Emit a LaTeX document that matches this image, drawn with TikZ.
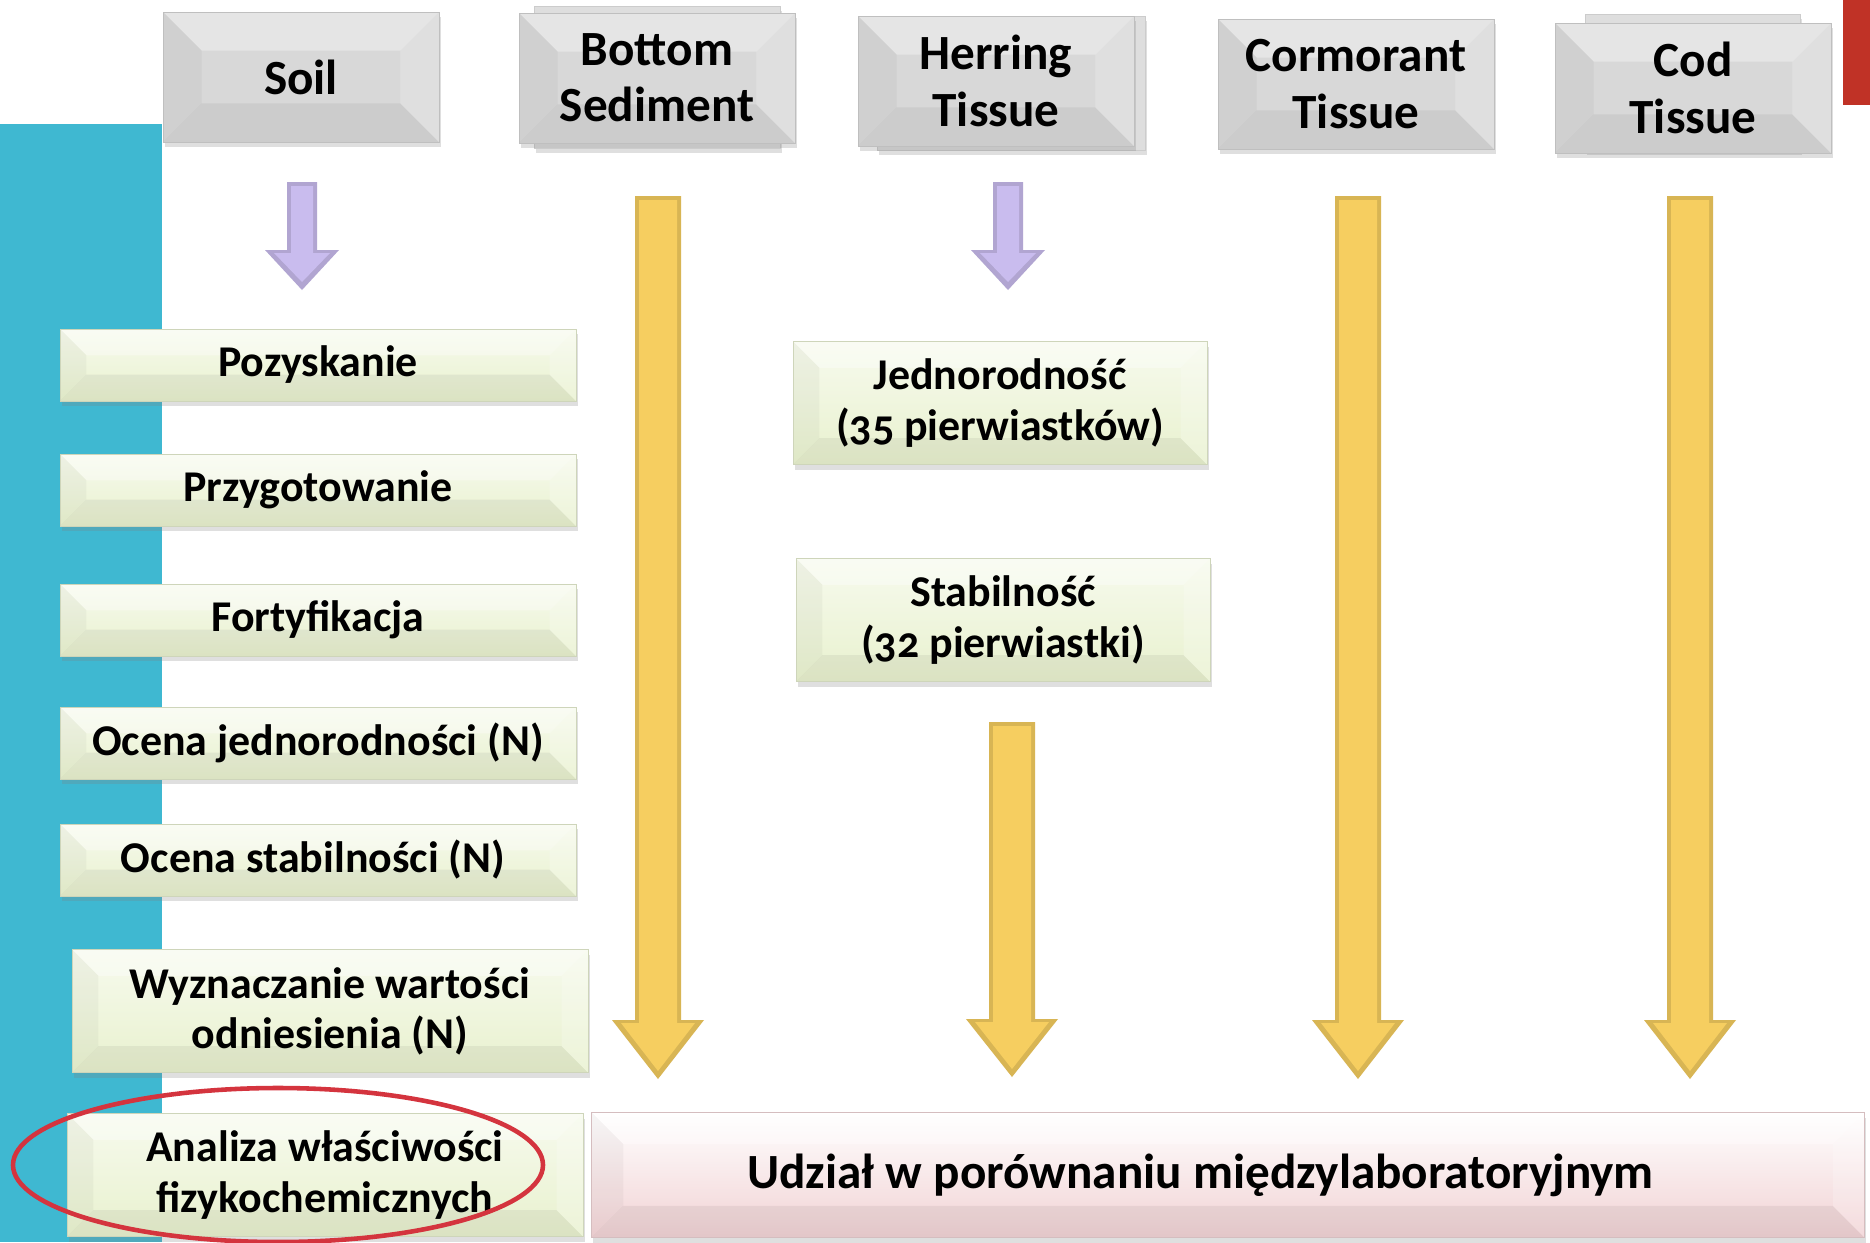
\documentclass[tikz,border=0pt]{standalone}
\usepackage{fontspec}
\setmainfont{Carlito}[Numbers=OldStyle]
\usetikzlibrary{calc,shadows}

\definecolor{bandcyan}{RGB}{63,184,209}
\definecolor{headgray}{RGB}{216,216,216}
\definecolor{stepgreen}{RGB}{232,241,206}
\definecolor{ilcpink}{RGB}{241,210,212}
\definecolor{arrowyellow}{RGB}{246,206,96}
\definecolor{arrowpurple}{RGB}{201,188,238}
\definecolor{ringred}{RGB}{212,52,62}
\definecolor{cornerred}{RGB}{192,50,38}

% bevel drawn inside a node (depth in pt)
\newcommand{\bevelpic}[1]{%
  \fill[white, opacity=.35] (path picture bounding box.north west) -- (path picture bounding box.north east)
    -- ([shift={(-#1pt,-#1pt)}]path picture bounding box.north east) -- ([shift={(#1pt,-#1pt)}]path picture bounding box.north west) -- cycle;
  \fill[black, opacity=.035] (path picture bounding box.north west) -- ([shift={(#1pt,-#1pt)}]path picture bounding box.north west)
    -- ([shift={(#1pt,#1pt)}]path picture bounding box.south west) -- (path picture bounding box.south west) -- cycle;
  \fill[black, opacity=.055] (path picture bounding box.south west) -- ([shift={(#1pt,#1pt)}]path picture bounding box.south west)
    -- ([shift={(-#1pt,#1pt)}]path picture bounding box.south east) -- (path picture bounding box.south east) -- cycle;
  \fill[white, opacity=.2] (path picture bounding box.north east) -- (path picture bounding box.south east)
    -- ([shift={(-#1pt,#1pt)}]path picture bounding box.south east) -- ([shift={(-#1pt,-#1pt)}]path picture bounding box.north east) -- cycle;
}

% block arrow: #1 top, #2 tip, #3 head length, #4 shaft half width, #5 head half width, #6 colour
\newcommand{\blockarrow}[6]{%
  \path[draw=white, fill=white, line width=6pt, line join=round,
        drop shadow={opacity=.2, shadow xshift=1pt, shadow yshift=-2pt}]
    ($(#1)+(-#4,0)$) -- ($(#1)+(#4,0)$) -- ($(#2)+(#4,-#3)$) -- ($(#2)+(#5,-#3)$) -- (#2)
    -- ($(#2)+(-#5,-#3)$) -- ($(#2)+(-#4,-#3)$) -- cycle;
  \fill[#6!88!black]
    ($(#1)+(-#4,0)$) -- ($(#1)+(#4,0)$) -- ($(#2)+(#4,-#3)$) -- ($(#2)+(#5,-#3)$) -- (#2)
    -- ($(#2)+(-#5,-#3)$) -- ($(#2)+(-#4,-#3)$) -- cycle;
  \fill[#6]
    ($(#1)+(-#4+4,4)$) -- ($(#1)+(#4-4,4)$) -- ($(#2)+(#4-4,-#3+3)$) -- ($(#2)+(#5-9,-#3+3)$) -- ($(#2)+(0,-8)$)
    -- ($(#2)+(-#5+9,-#3+3)$) -- ($(#2)+(-#4+4,-#3+3)$) -- cycle;
}

\tikzset{
  bevelled/.style={path picture={\bevelpic{#1}}},
  boxshadow/.style={drop shadow={opacity=.25, shadow xshift=1pt, shadow yshift=-3pt}},
  headbox/.style={rectangle, fill=headgray, draw=gray!50, inner sep=0pt, outer sep=0pt,
    minimum width=5.52cm, minimum height=2.6cm, align=center, boxshadow, bevelled=22,
    font=\bfseries\fontsize{28}{32}\selectfont},
  stepbox/.style={rectangle, top color=stepgreen!35!white, middle color=stepgreen, bottom color=stepgreen,
    draw=stepgreen!75!gray, inner sep=0pt, outer sep=0pt, minimum width=10.32cm, minimum height=1.44cm,
    align=center, boxshadow, bevelled=15, font=\bfseries\fontsize{25}{28.5}\selectfont},
  tallbox/.style={stepbox, minimum height=2.46cm},
  ilcbox/.style={rectangle, top color=white, middle color=ilcpink, bottom color=ilcpink,
    draw=ilcpink!75!gray, inner sep=0pt, outer sep=0pt, minimum width=25.46cm, minimum height=2.5cm,
    align=center, boxshadow, bevelled=18, font=\bfseries\fontsize{28}{32}\selectfont},
}

\begin{document}
\begin{tikzpicture}[x=0.02cm, y=-0.02cm]

  \useasboundingbox (0,0) rectangle (1870,1242);
  \clip (0,0) rectangle (1870,1242);

  % background band and corner
  \fill[bandcyan] (0,124) rectangle (162,1242);
  \fill[cornerred] (1843,0) rectangle (1870,105);

  % back plates of the headers
  \fill[headgray!85!white, draw=gray!40, boxshadow] (534,6) rectangle (780,148);
  \fill[headgray!85!white, draw=gray!40, boxshadow] (877,16) rectangle (1145,150);
  \fill[headgray!85!white, draw=gray!40, boxshadow] (1585,14) rectangle (1800,150);

  % headers
  \node[headbox] (soil)      at (301,77)  {Soil};
  \node[headbox] (sediment)  at (657,78)  {Bottom\\Sediment};
  \node[headbox] (herring)   at (996,81)  {Herring\\Tissue};
  \node[headbox] (cormorant) at (1356,84) {Cormorant\\Tissue};
  \node[headbox] (cod)       at (1693,88) {Cod\\Tissue};

  % ---- arrows ----
  \coordinate (soilA) at (302,182);
  \coordinate (soilB) at (302,290);
  \coordinate (herringA) at (1008,182);
  \coordinate (herringB) at (1008,290);
  \blockarrow{soilA}{soilB}{40}{15}{37}{arrowpurple}
  \blockarrow{herringA}{herringB}{40}{15}{37}{arrowpurple}

  \coordinate (herringC) at (1012,722);
  \coordinate (herringD) at (1012,1077);
  \blockarrow{herringC}{herringD}{58}{23}{46}{arrowyellow}

  \foreach \nm/\xx in {sediment/658, cormorant/1358, cod/1690}{
    \coordinate (\nm A) at (\xx,196);
    \coordinate (\nm B) at (\xx,1079);
    \blockarrow{\nm A}{\nm B}{59}{23}{46}{arrowyellow}
  }

  % ---- steps for soil ----
  \foreach \nm/\yy/\txt in {
      pozysk/365/{Pozyskanie},
      przyg/490/{Przygotowanie},
      fort/620/{Fortyfikacja},
      ocjed/743/{Ocena jednorodności (N)},
      ocstab/860/{Ocena stabilności (N)}
  }{
    \node[stepbox] (\nm) at (318,\yy) {\txt};
  }
  \node[tallbox] (wyzn)    at (330,1011) {Wyznaczanie wartości\\odniesienia (N)};
  \node[tallbox] (analiza) at (325,1175) {Analiza właściwości\\fizykochemicznych};

  % ---- steps for herring ----
  \node[tallbox, minimum width=8.28cm] (jedn) at (1000,403) {Jednorodność\\(35 pierwiastków)};
  \node[tallbox, minimum width=8.28cm] (stab) at (1003,620) {Stabilność\\(32 pierwiastki)};

  % ---- interlaboratory comparison ----
  \node[ilcbox] (udzial) at (1228,1175) {\hspace*{-1.1cm}Udział w porównaniu międzylaboratoryjnym};

  % highlight
  \draw[ringred, line width=2.6pt] (278,1165) ellipse [x radius=265, y radius=77];

\end{tikzpicture}
\end{document}
